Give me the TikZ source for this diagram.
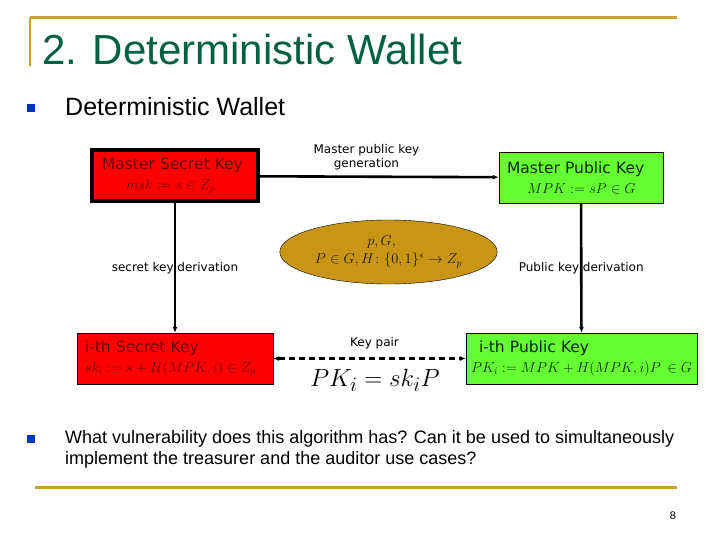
\documentclass[tikz,border=0pt]{standalone}
\usepackage{amsmath,amssymb}
\usepackage{fontspec}
\setmainfont{Liberation Sans}
\newfontfamily\boxfont{DejaVu Sans}
\usetikzlibrary{arrows.meta,shapes.geometric,positioning}

\definecolor{gold}{RGB}{200,160,48}
\definecolor{titlegreen}{RGB}{0,96,64}
\definecolor{bulletblue}{RGB}{0,51,204}
\definecolor{keyred}{RGB}{255,0,0}
\definecolor{keygreen}{RGB}{102,255,51}
\definecolor{darkred}{RGB}{105,0,0}
\definecolor{darkgreen}{RGB}{0,40,0}
\definecolor{ochre}{RGB}{200,150,20}

\newcommand{\keymath}[1]{{\fontsize{14}{17}\selectfont$#1$}}

\begin{document}
\begin{tikzpicture}[x=1pt, y=-1pt,
    key/.style={draw, minimum height=51pt, align=left, inner xsep=8pt, font=\boxfont\fontsize{15.5}{20}\selectfont},
    seckey/.style={key, fill=keyred, text=darkred},
    pubkey/.style={key, fill=keygreen, text=darkgreen},
    lbl/.style={font=\boxfont\fontsize{12}{14}\selectfont, align=center},
    tip/.style={-{Latex[length=6pt,width=5pt]}},
    arr/.style={tip, line width=2.6pt},
    bullet/.style={fill=bulletblue, minimum size=8pt, inner sep=0pt}
]
\useasboundingbox (0,0) rectangle (720,540);

% header rules
\draw[gold, line width=3pt] (30,18) -- (677,18);
\draw[gold, line width=2pt] (30,18) -- (30,66);
\node[anchor=base west, text=titlegreen, font=\fontsize{42}{46}\selectfont, inner sep=0pt] (title) at (42,65) {2. Deterministic Wallet};

\node[bullet] (b1) at (31,108) {};
\node[anchor=base west, font=\fontsize{25}{28}\selectfont, inner sep=0pt] (item1) at (65,116) {Deterministic Wallet};

% keys
\node[seckey, minimum width=166pt, text width=150pt, line width=4pt] (msk) at (175,176) {\hspace*{2pt}Master Secret Key\\\hspace*{26pt}\keymath{msk := s \in Z_p}};
\node[pubkey, minimum width=164pt, text width=148pt] (mpk) at (581,177.5) {Master Public Key\\\hspace*{20pt}\keymath{MPK := sP \in G}};
\node[seckey, minimum width=196pt, text width=180pt] (isk) at (175,358.5) {i-th Secret Key\\\keymath{sk_i := s + H(MPK, i) \in Z_p}};
\node[pubkey, minimum width=231pt, text width=221pt, inner xsep=5pt] (ipk) at (581.5,358.5) {\hspace*{8pt}i-th Public Key\\\keymath{PK_i := MPK + H(MPK, i)P \,\in G}};

\node[draw, ellipse, fill=ochre, minimum width=164pt, minimum height=64pt, align=center, text=black!85!ochre, font=\fontsize{14}{18}\selectfont] (params) at (388.5,252) {$p, G,$\hspace*{14pt}\\$P \in G, H\colon \{0,1\}^* \to Z_p$};

% connectors
\draw[arr] (msk) -- node[lbl, above=2pt, xshift=-13pt] {Master public key\\generation} (mpk);
\draw[arr] (msk) -- node[lbl] {secret key derivation} (isk);
\draw[arr] (mpk) -- node[lbl] {Public key derivation} (ipk);
\draw[{Latex[length=6pt,width=5pt]}-{Latex[length=6pt,width=5pt]}, line width=2.4pt, dash pattern=on 6pt off 4pt] (isk) -- node[lbl, above=5pt, xshift=5pt] {Key pair} (ipk);
\node[font=\fontsize{31}{34}\selectfont] (pair) at (375,380) {$PK_i = sk_iP$};

% question
\node[bullet] (b2) at (31,439) {};
\node[anchor=north west, align=left, font=\fontsize{18}{21}\selectfont, inner sep=0pt] (item2) at (65,430) {What vulnerability does this algorithm has? Can it be used to simultaneously\\implement the treasurer and the auditor use cases?};

\draw[gold, line width=3pt] (35,487) -- (677,487);
\node[font=\fontsize{11}{13}\selectfont] (page) at (673,516) {8};
\end{tikzpicture}
\end{document}
